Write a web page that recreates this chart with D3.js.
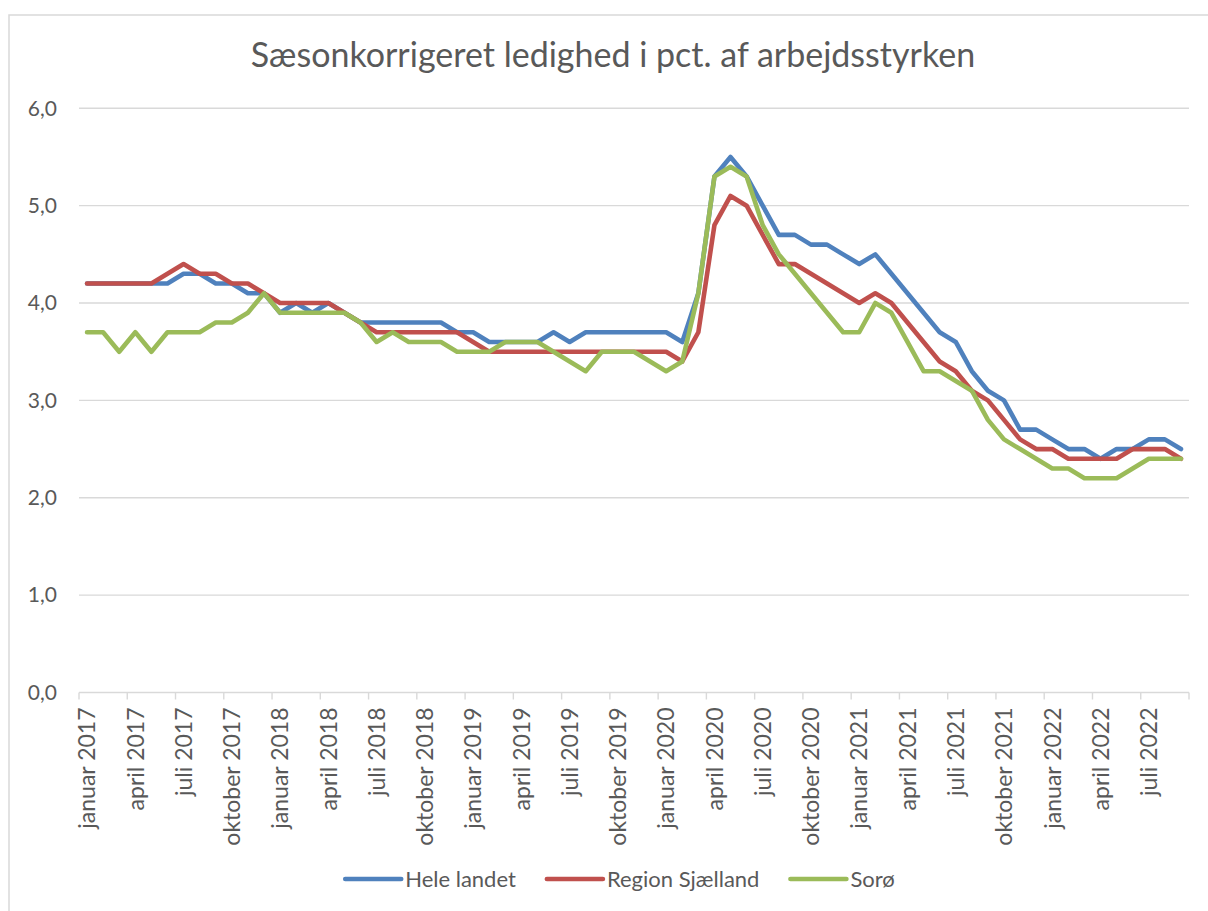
<!DOCTYPE html>
<html>
<head>
<meta charset="utf-8">
<script src="https://cdn.jsdelivr.net/npm/d3@7"></script>
<style>
body { margin: 0; background: #fff; }
svg text { font-family: Lato, "Open Sans", sans-serif; fill: #595959; }
</style>
</head>
<body>
<svg width="1208" height="911"></svg>
<script>
// kategorier: jan 2017 - sep 2022
var months = [
  "januar 2017","februar 2017","marts 2017","april 2017","maj 2017","juni 2017","juli 2017","august 2017","september 2017","oktober 2017","november 2017","december 2017",
  "januar 2018","februar 2018","marts 2018","april 2018","maj 2018","juni 2018","juli 2018","august 2018","september 2018","oktober 2018","november 2018","december 2018",
  "januar 2019","februar 2019","marts 2019","april 2019","maj 2019","juni 2019","juli 2019","august 2019","september 2019","oktober 2019","november 2019","december 2019",
  "januar 2020","februar 2020","marts 2020","april 2020","maj 2020","juni 2020","juli 2020","august 2020","september 2020","oktober 2020","november 2020","december 2020",
  "januar 2021","februar 2021","marts 2021","april 2021","maj 2021","juni 2021","juli 2021","august 2021","september 2021","oktober 2021","november 2021","december 2021",
  "januar 2022","februar 2022","marts 2022","april 2022","maj 2022","juni 2022","juli 2022","august 2022","september 2022"
];

var heleLandet = [
  4.2,4.2,4.2,4.2,4.2,4.2,4.3,4.3,4.2,4.2,4.1,4.1,
  3.9,4.0,3.9,4.0,3.9,3.8,3.8,3.8,3.8,3.8,3.8,3.7,
  3.7,3.6,3.6,3.6,3.6,3.7,3.6,3.7,3.7,3.7,3.7,3.7,
  3.7,3.6,4.1,5.3,5.5,5.3,5.0,4.7,4.7,4.6,4.6,4.5,
  4.4,4.5,4.3,4.1,3.9,3.7,3.6,3.3,3.1,3.0,2.7,2.7,
  2.6,2.5,2.5,2.4,2.5,2.5,2.6,2.6,2.5
];

var regionSjaelland = [
  4.2,4.2,4.2,4.2,4.2,4.3,4.4,4.3,4.3,4.2,4.2,4.1,
  4.0,4.0,4.0,4.0,3.9,3.8,3.7,3.7,3.7,3.7,3.7,3.7,
  3.6,3.5,3.5,3.5,3.5,3.5,3.5,3.5,3.5,3.5,3.5,3.5,
  3.5,3.4,3.7,4.8,5.1,5.0,4.7,4.4,4.4,4.3,4.2,4.1,
  4.0,4.1,4.0,3.8,3.6,3.4,3.3,3.1,3.0,2.8,2.6,2.5,
  2.5,2.4,2.4,2.4,2.4,2.5,2.5,2.5,2.4
];

var soro = [
  3.7,3.7,3.5,3.7,3.5,3.7,3.7,3.7,3.8,3.8,3.9,4.1,
  3.9,3.9,3.9,3.9,3.9,3.8,3.6,3.7,3.6,3.6,3.6,3.5,
  3.5,3.5,3.6,3.6,3.6,3.5,3.4,3.3,3.5,3.5,3.5,3.4,
  3.3,3.4,4.1,5.3,5.4,5.3,4.8,4.5,4.3,4.1,3.9,3.7,
  3.7,4.0,3.9,3.6,3.3,3.3,3.2,3.1,2.8,2.6,2.5,2.4,
  2.3,2.3,2.2,2.2,2.2,2.3,2.4,2.4,2.4
];

var yTicks = [0, 1, 2, 3, 4, 5, 6];
var seriesNames = ["Hele landet", "Region Sjælland", "Sorø"];
var seriesColors = ["#4f81bd", "#c0504d", "#9bbb59"];
var title = "Sæsonkorrigeret ledighed i pct. af arbejdsstyrken";

var series = [heleLandet, regionSjaelland, soro].map(function (vals, k) {
  return { name: seriesNames[k], color: seriesColors[k], values: vals };
});

var svg = d3.select("svg");

// ramme (kun venstre + top synlig)
svg.append("path")
  .attr("d", "M9,911V15H1208")
  .attr("fill", "none")
  .attr("stroke", "#d9d9d9")
  .attr("stroke-width", 1.5);

var x = d3.scaleBand().domain(months).range([79, 1189]);
var y = d3.scaleLinear().domain([0, 6]).range([692.5, 108.3]);
var bw = x.bandwidth();

svg.append("text")
  .attr("x", 613)
  .attr("y", 67)
  .attr("text-anchor", "middle")
  .style("font-size", "34px")
  .text(title);

// gitterlinjer
svg.append("g")
  .selectAll("line")
  .data(yTicks)
  .enter()
  .append("line")
  .attr("x1", 79)
  .attr("x2", 1189)
  .attr("y1", d => y(d))
  .attr("y2", d => y(d))
  .attr("stroke", "#d9d9d9")
  .attr("stroke-width", 1.4);

// y-akse
var fmt = d => d3.format(".1f")(d).replace(".", ",");
var yAxis = svg.append("g")
  .attr("transform", "translate(79,0)")
  .call(d3.axisLeft(y).tickValues(yTicks).tickSize(0).tickPadding(22).tickFormat(fmt));
yAxis.select(".domain").remove();
yAxis.selectAll("text")
  .style("font-size", "21px")
  .style("font-family", "Lato, 'Open Sans', sans-serif")
  .attr("fill", "#595959");

// x-akse: tick marks for hver 3. måned
var tickIdx = d3.range(0, months.length + 1, 3);
svg.append("g")
  .selectAll("line")
  .data(tickIdx)
  .enter()
  .append("line")
  .attr("x1", d => 79 + d * bw)
  .attr("x2", d => 79 + d * bw)
  .attr("y1", y(0))
  .attr("y2", y(0) + 7)
  .attr("stroke", "#d9d9d9")
  .attr("stroke-width", 1.4);

var xAxis = svg.append("g")
  .attr("transform", "translate(0," + y(0) + ")")
  .call(d3.axisBottom(x).tickValues(months.filter((d, i) => i % 3 === 0)).tickSize(0));
xAxis.select(".domain").remove();
xAxis.selectAll("text")
  .attr("transform", "rotate(-90)")
  .attr("x", -15)
  .attr("y", 0)
  .attr("dy", "0.36em")
  .style("text-anchor", "end")
  .style("font-size", "23px")
  .style("font-family", "Lato, 'Open Sans', sans-serif")
  .attr("fill", "#595959");

// linjer
var line = d3.line()
  .x((d, i) => x(months[i]) + bw / 2)
  .y(d => y(d));

svg.append("g")
  .selectAll("path")
  .data(series)
  .enter()
  .append("path")
  .attr("d", d => line(d.values))
  .attr("fill", "none")
  .attr("stroke", d => d.color)
  .attr("stroke-width", 4.6)
  .attr("stroke-linejoin", "round")
  .attr("stroke-linecap", "round");

// legende
var legend = svg.append("g").attr("transform", "translate(0,879)");
var items = legend.selectAll("g")
  .data(series)
  .enter()
  .append("g");
items.append("line")
  .attr("x1", 0).attr("x2", 56)
  .attr("stroke", d => d.color)
  .attr("stroke-width", 4.6)
  .attr("stroke-linecap", "round");
items.append("text")
  .attr("x", 60)
  .attr("dy", "0.35em")
  .style("font-size", "22px")
  .text(d => d.name);

var widths = [];
items.each(function () {
  widths.push(60 + d3.select(this).select("text").node().getComputedTextLength());
});
var gap = 31;
var total = d3.sum(widths) + gap * (widths.length - 1);
var cx = 620 - total / 2;
items.attr("transform", function (d, i) {
  var pos = cx;
  for (var k = 0; k < i; k++) pos += widths[k] + gap;
  return "translate(" + pos + ",0)";
});
</script>
</body>
</html>
